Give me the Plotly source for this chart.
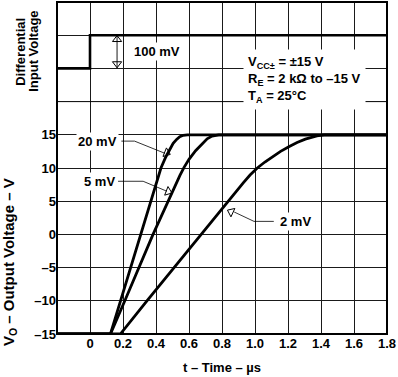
import plotly.graph_objects as go

# ---- data ----
# input step (upper panel, mV)
step_t = [-0.2, 0.0, 0.0, 1.8]
step_mv = [0, 0, 100, 100]

# output response curves (t in us, V in volts)
t_20mv = [-0.2, 0.124, 0.185, 0.247, 0.306, 0.368, 0.43, 0.46, 0.48, 0.504, 0.525, 0.544, 0.565, 0.59, 1.8]
v_20mv = [-15, -15, -10, -5, 0, 5, 10, 11.7, 12.7, 13.7, 14.3, 14.7, 14.92, 15, 15]

t_5mv = [-0.2, 0.124, 0.211, 0.297, 0.382, 0.474, 0.52, 0.545, 0.57, 0.60, 0.64, 0.68, 0.71, 0.74, 0.78, 1.8]
v_5mv = [-15, -15, -10, -5, 0, 5, 7.6, 8.9, 10.1, 11.3, 12.6, 13.7, 14.4, 14.8, 15, 15]

t_2mv = [-0.2, 0.184, 0.345, 0.508, 0.672, 0.835, 0.93, 0.97, 1.014, 1.06, 1.104, 1.155, 1.205, 1.255, 1.305, 1.375, 1.42, 1.8]
v_2mv = [-15, -15, -10, -5, 0, 5, 7.8, 8.95, 10, 10.9, 11.7, 12.5, 13.2, 13.85, 14.35, 14.85, 15, 15]

x_ticks = [0, 0.2, 0.4, 0.6, 0.8, 1.0, 1.2, 1.4, 1.6, 1.8]
x_ticktext = ["0", "0.2", "0.4", "0.6", "0.8", "1.0", "1.2", "1.4", "1.6", "1.8"]
y_ticks = [-15, -10, -5, 0, 5, 10, 15, 20]
y_ticktext = ["–15", "–10", "–5", "0", "5", "10", "15", ""]

FONT = "Liberation Sans, Arial, Helvetica, sans-serif"
BLK = "black"

fig = go.Figure()

# upper panel: step
fig.add_trace(go.Scatter(x=step_t, y=step_mv, xaxis="x2", yaxis="y2", mode="lines",
                         line=dict(color=BLK, width=2.6), hoverinfo="skip"))
# 100 mV double arrow
fig.add_trace(go.Scatter(x=[0.164, 0.164], y=[0, 100], xaxis="x2", yaxis="y2", mode="lines",
                         line=dict(color=BLK, width=0.9), hoverinfo="skip"))
fig.add_trace(go.Scatter(x=[0.164, 0.164], y=[87, 14], xaxis="x2", yaxis="y2", mode="markers",
                         marker=dict(symbol=["triangle-up-open", "triangle-down-open"], size=8,
                                     color=BLK, line=dict(width=1)), hoverinfo="skip"))

# lower panel curves
for tt, vv in [(t_20mv, v_20mv), (t_5mv, v_5mv), (t_2mv, v_2mv)]:
    fig.add_trace(go.Scatter(x=tt, y=vv, mode="lines", line=dict(color=BLK, width=2.8),
                             hoverinfo="skip"))

# leader lines + open arrowheads
leaders = [
    ([0.19, 0.27, 0.455], [14.05, 14.05, 12.2], (0.464, 12.27), 112),
    ([0.17, 0.322, 0.466], [8.0, 8.0, 6.5], (0.474, 6.45), 111),
    ([1.114, 0.994, 0.874], [1.96, 1.96, 3.37], (0.855, 3.4), 295),
]
for lx, ly, (mx, my), ang in leaders:
    fig.add_trace(go.Scatter(x=lx, y=ly, mode="lines", line=dict(color=BLK, width=0.8),
                             hoverinfo="skip"))
    fig.add_trace(go.Scatter(x=[mx], y=[my], mode="markers",
                             marker=dict(symbol="triangle-up-open", size=8, angle=ang, color=BLK,
                                         line=dict(width=1)), hoverinfo="skip"))

tf = dict(family=FONT, size=13, color=BLK, weight="bold")
tf_big = dict(family=FONT, size=15, color=BLK, weight="bold")
annotations = [
    dict(x=0.043, y=13.94, xref="x", yref="y", text="20 mV", showarrow=False, font=tf,
         bgcolor="white", borderpad=1),
    dict(x=0.058, y=7.93, xref="x", yref="y", text="5 mV", showarrow=False, font=tf,
         bgcolor="white", borderpad=1),
    dict(x=1.247, y=1.96, xref="x", yref="y", text="2 mV", showarrow=False, font=tf,
         bgcolor="white", borderpad=1),
    dict(x=0.404, y=50, xref="x2", yref="y2", text="100 mV", showarrow=False, font=tf,
         bgcolor="white", borderpad=1),
    dict(x=0.93, y=-32, xref="x2", yref="y2", xanchor="left", yanchor="middle", align="left",
         showarrow=False,
         text="V<sub>CC±</sub> = ±15 V<br>R<sub>E</sub> = 2 kΩ to –15 V<br>T<sub>A</sub> = 25°C",
         font=tf, bgcolor="white", borderpad=4),
    # axis titles
    dict(x=0, xref="paper", xshift=-36, xanchor="center", y=0.85, yref="paper", yanchor="middle",
         text="Differential", textangle=-90, showarrow=False, font=tf),
    dict(x=0, xref="paper", xshift=-23, xanchor="center", y=0.85, yref="paper", yanchor="middle",
         text="Input Voltage", textangle=-90, showarrow=False, font=tf),
    dict(x=0, xref="paper", xshift=-47.5, xanchor="center", y=0.215, yref="paper", yanchor="middle",
         text="V<sub>O</sub> – Output Voltage – V", textangle=-90, showarrow=False, font=tf_big),
    dict(x=0.5, xref="paper", y=0, yref="paper", yshift=-33, yanchor="middle",
         text="t – Time – µs", showarrow=False, font=tf),
]

grid = dict(showgrid=True, gridcolor="#1a1a1a", gridwidth=1, zeroline=False, showline=False,
            ticks="", ticklabeloverflow="allow",
            tickfont=dict(family=FONT, size=13, color=BLK, weight="bold"))

fig.update_layout(
    width=398, height=377,
    margin=dict(l=57, r=8, t=2, b=43),
    paper_bgcolor="white", plot_bgcolor="white",
    showlegend=False,
    xaxis=dict(domain=[0, 1], anchor="y", range=[-0.2, 1.8], tickvals=x_ticks,
               ticktext=x_ticktext, **grid),
    yaxis=dict(domain=[0, 0.7], anchor="x", range=[-15, 20], tickvals=y_ticks,
               ticktext=y_ticktext, **grid),
    xaxis2=dict(domain=[0, 1], anchor="y2", range=[-0.2, 1.8], tickvals=x_ticks,
                showticklabels=False, matches="x", **grid),
    yaxis2=dict(domain=[0.7, 1], anchor="x2", range=[-100, 200], tickvals=[-100, 0, 100, 200],
                showticklabels=False, **grid),
    annotations=annotations,
    shapes=[
        dict(type="line", xref="paper", yref="paper", x0=0, x1=1, y0=0.7, y1=0.7,
             line=dict(color=BLK, width=1)),
        dict(type="rect", xref="paper", yref="paper", x0=0, x1=1, y0=0, y1=1,
             line=dict(color=BLK, width=2)),
    ],
)

fig.write_html("out.html", config={"displayModeBar": False},
               post_script="document.body.style.margin='0px';")
